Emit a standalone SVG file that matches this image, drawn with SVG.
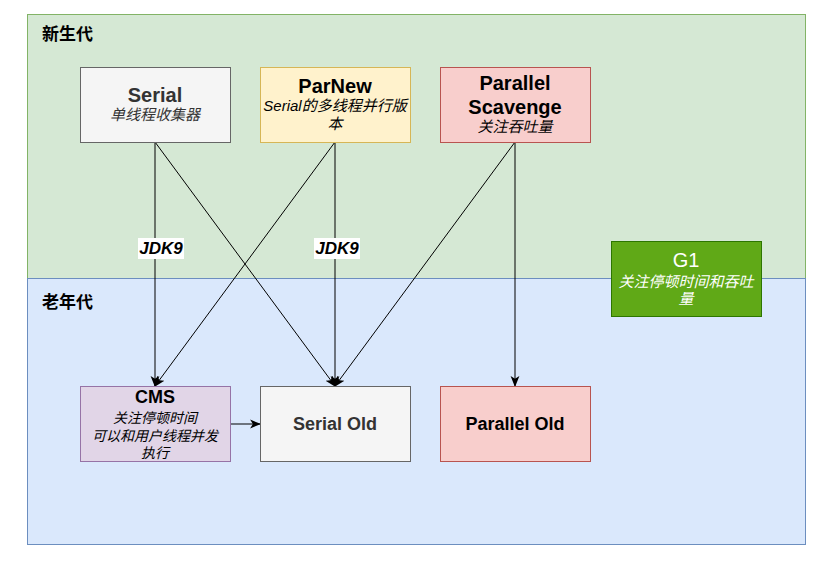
<svg xmlns="http://www.w3.org/2000/svg" width="830" height="565" viewBox="0 0 830 565">
<style>
text{font-family:"Liberation Sans","Noto Sans CJK SC",Arial,sans-serif;text-anchor:middle}
.t{font-size:20px;font-weight:bold;fill:#000}
.b{font-size:18px;font-weight:bold;fill:#000}
.s{font-size:15px;font-style:italic;fill:#000}
.c{font-size:14px;font-style:italic;fill:#000}
.z{font-size:17px;font-weight:bold;fill:#000;text-anchor:start}
.e{stroke:#000;stroke-width:1;fill:none;marker-end:url(#a)}
.lbl{font-size:17px;font-weight:bold;font-style:italic;fill:#000}
</style>
<defs>
<marker id="a" viewBox="0 0 10 10" refX="9" refY="5" markerWidth="11" markerHeight="11" markerUnits="userSpaceOnUse" orient="auto">
<path d="M0,1 L10,5 L0,9 L2.5,5 Z" fill="#000"/>
</marker>
</defs>
<rect width="830" height="565" fill="#fff"/>
<g id="young">
<rect x="27.5" y="14.5" width="778" height="264" fill="#d5e8d4" stroke="#82b366"/>
<text class="z" x="42" y="40">新生代</text>
</g>
<g id="old">
<rect x="27.5" y="278.5" width="778" height="266" fill="#dae8fc" stroke="#6c8ebf"/>
<text class="z" x="42" y="308">老年代</text>
</g>
<g id="edges">
<line class="e" x1="155" y1="142" x2="155" y2="386"/>
<line class="e" x1="155" y1="142" x2="335" y2="386"/>
<line class="e" x1="335" y1="142" x2="155" y2="386"/>
<line class="e" x1="335" y1="142" x2="335" y2="386"/>
<line class="e" x1="515" y1="142" x2="335" y2="386"/>
<line class="e" x1="515" y1="142" x2="515" y2="386"/>
<line class="e" x1="230" y1="424" x2="260" y2="424"/>
<rect x="138" y="238" width="46" height="21" fill="#fff"/>
<text class="lbl" x="161" y="254">JDK9</text>
<rect x="314" y="238" width="46" height="21" fill="#fff"/>
<text class="lbl" x="337" y="254">JDK9</text>
</g>
<g id="serial">
<rect x="80.5" y="67.5" width="150" height="75" fill="#f5f5f5" stroke="#666666"/>
<text class="t" x="155" y="102" style="fill:#333333">Serial</text>
<text class="s" x="155" y="120" style="fill:#333333">单线程收集器</text>
</g>
<g id="parnew">
<rect x="260.5" y="67.5" width="150" height="75" fill="#fff2cc" stroke="#d6b656"/>
<text class="t" x="335" y="93">ParNew</text>
<text class="s" x="335" y="111">Serial的多线程并行版</text>
<text class="s" x="335" y="129">本</text>
</g>
<g id="parallel-scavenge">
<rect x="440.5" y="67.5" width="150" height="75" fill="#f8cecc" stroke="#b85450"/>
<text class="t" x="515" y="90">Parallel</text>
<text class="t" x="515" y="114">Scavenge</text>
<text class="s" x="515" y="132">关注吞吐量</text>
</g>
<g id="g1">
<rect x="611.5" y="241.5" width="150" height="75" fill="#60a917" stroke="#2d7600"/>
<text x="686" y="267" style="font-size:20px;fill:#fff">G1</text>
<text class="s" x="686" y="287" style="fill:#fff">关注停顿时间和吞吐</text>
<text class="s" x="686" y="304" style="fill:#fff">量</text>
</g>
<g id="cms">
<rect x="80.5" y="386.5" width="150" height="75" fill="#e1d5e7" stroke="#9673a6"/>
<text class="b" x="155" y="403">CMS</text>
<text class="c" x="155" y="423">关注停顿时间</text>
<text class="c" x="155" y="441">可以和用户线程并发</text>
<text class="c" x="155" y="458">执行</text>
</g>
<g id="serial-old">
<rect x="260.5" y="386.5" width="150" height="75" fill="#f5f5f5" stroke="#666666"/>
<text class="b" x="335" y="430" style="fill:#333333">Serial Old</text>
</g>
<g id="parallel-old">
<rect x="440.5" y="386.5" width="150" height="75" fill="#f8cecc" stroke="#b85450"/>
<text class="b" x="515" y="430">Parallel Old</text>
</g>
</svg>
